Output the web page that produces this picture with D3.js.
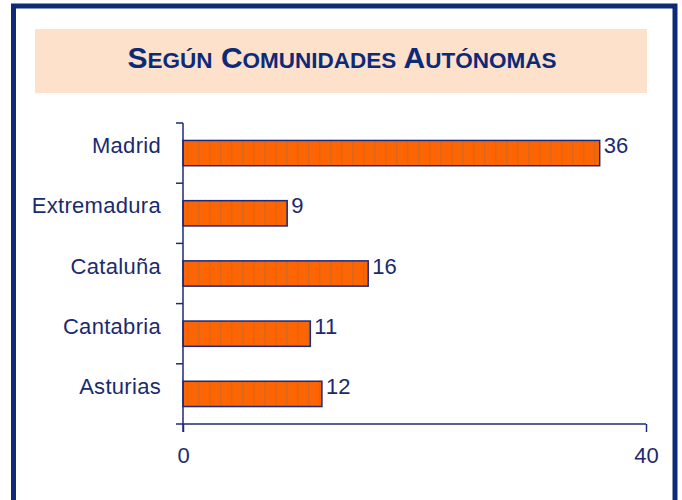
<!DOCTYPE html>
<html>
<head>
<meta charset="utf-8">
<script src="https://cdn.jsdelivr.net/npm/d3@7"></script>
<style>
  body { margin: 0; background: #fff; }
  svg { display: block; }
</style>
</head>
<body>
<div id="chart"></div>
<script>
const width = 682;
const height = 500;

// data
const regions = ["Madrid", "Extremadura", "Cataluña", "Cantabria", "Asturias"];
const counts = [36, 9, 16, 11, 12];
const xTicks = [0, 40];

const navy = "#0c2a78";
const txt = "#1b2a6e";

const svg = d3.select("#chart")
  .append("svg")
  .attr("width", width)
  .attr("height", height);

// frame
svg.append("rect")
  .attr("x", 13.5).attr("y", 6)
  .attr("width", 661.5).attr("height", 520)
  .attr("fill", "#fff")
  .attr("stroke", navy)
  .attr("stroke-width", 5);

// title box
svg.append("rect")
  .attr("x", 35).attr("y", 29)
  .attr("width", 612).attr("height", 64)
  .attr("fill", "#fde1ca");

const title = svg.append("text")
  .attr("x", 342).attr("y", 68)
  .attr("text-anchor", "middle")
  .attr("fill", navy)
  .style("font-family", "'Liberation Sans Narrow', 'Liberation Sans', Arial, sans-serif")
  .style("font-weight", "bold");

const words = ["Según", "Comunidades", "Autónomas"];
words.forEach((w, i) => {
  title.append("tspan").style("font-size", "30px").text((i ? " " : "") + w[0].toUpperCase());
  title.append("tspan").style("font-size", "22.5px").text(w.slice(1).toUpperCase());
});

// bar texture
const defs = svg.append("defs");
const pat = defs.append("pattern")
  .attr("id", "stripes")
  .attr("patternUnits", "userSpaceOnUse")
  .attr("width", 11).attr("height", 4);
pat.append("rect").attr("width", 11).attr("height", 4).attr("fill", "#ff6400");
pat.append("rect").attr("x", 0).attr("width", 1.5).attr("height", 4).attr("fill", "#d8691c");
pat.append("rect").attr("x", 4).attr("width", 1).attr("height", 2).attr("fill", "#ee6a14");
pat.append("rect").attr("x", 7).attr("y", 2).attr("width", 1).attr("height", 2).attr("fill", "#ee6a14");

const x = d3.scaleLinear()
  .domain([0, 40])
  .range([183, 646]);

const y = d3.scaleBand()
  .domain(regions)
  .range([123, 424])
  .paddingInner(0.58)
  .paddingOuter(0.29);

const data = regions.map((r, i) => ({ region: r, value: counts[i] }));

svg.selectAll("rect.bar")
  .data(data).enter()
  .append("rect")
  .attr("class", "bar")
  .attr("x", x(0))
  .attr("y", d => y(d.region))
  .attr("width", d => x(d.value) - x(0))
  .attr("height", y.bandwidth())
  .attr("fill", "url(#stripes)")
  .attr("stroke", "#1d2a78")
  .attr("stroke-width", 1.5);

svg.selectAll("text.val")
  .data(data).enter()
  .append("text")
  .attr("class", "val")
  .attr("x", d => x(d.value) + 4)
  .attr("y", d => y(d.region) + y.bandwidth() / 2)
  .attr("fill", txt)
  .style("font-family", "'Liberation Sans', Arial, sans-serif")
  .style("font-size", "22px")
  .text(d => d.value);

svg.selectAll("text.cat")
  .data(data).enter()
  .append("text")
  .attr("class", "cat")
  .attr("x", 161)
  .attr("y", d => y(d.region) + y.bandwidth() / 2)
  .attr("text-anchor", "end")
  .attr("fill", txt)
  .style("font-family", "'Liberation Sans', Arial, sans-serif")
  .style("font-size", "22px")
  .style("letter-spacing", "0.3px")
  .text(d => d.region);

// y axis: ticks at band boundaries
const bounds = d3.range(regions.length + 1).map(i => 123 + i * y.step());
const yAxis = svg.append("g").attr("stroke", "#1d2a78").attr("stroke-width", 1.5);
yAxis.append("line")
  .attr("x1", x(0)).attr("x2", x(0))
  .attr("y1", 123).attr("y2", 432);
yAxis.selectAll("line.t")
  .data(bounds).enter()
  .append("line")
  .attr("class", "t")
  .attr("x1", x(0) - 7).attr("x2", x(0))
  .attr("y1", d => d).attr("y2", d => d);

// x axis
const xAxis = svg.append("g")
  .attr("transform", "translate(0,424)")
  .call(d3.axisBottom(x).tickValues(xTicks).tickSize(8).tickPadding(15));
xAxis.select(".domain").attr("stroke", "#1d2a78").attr("stroke-width", 1.5)
  .attr("d", `M${x(0)},0H${x(40)}`);
xAxis.selectAll(".tick line").attr("stroke", "#1d2a78").attr("stroke-width", 1.5);
xAxis.selectAll(".tick text")
  .attr("fill", txt)
  .style("font-family", "'Liberation Sans', Arial, sans-serif")
  .style("font-size", "22px");
</script>
</body>
</html>
